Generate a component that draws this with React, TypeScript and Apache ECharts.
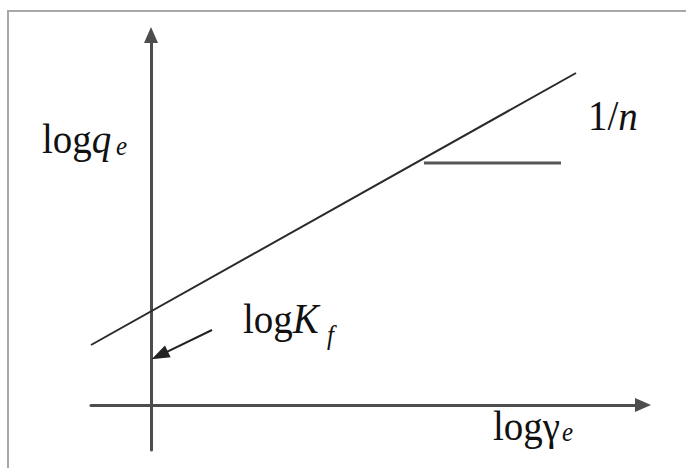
import React, { useEffect, useRef } from "react";
import * as echarts from "echarts";

// Schematic Freundlich isotherm (arbitrary units)
const xRange = [-0.6, 4.92];
const yRange = [-0.45, 3.7];
const isothermLine = [
  [-0.6, 0.6],
  [4.25, 3.32],
];
const slopeMarker = [
  [2.73, 2.42],
  [4.1, 2.42],
];
const interceptArrow = [
  [0.61, 0.75],
  [0.087, 0.497],
];

const FAM = "Liberation Serif";
const FS = 39;
const SUB = 25;
const SY = 1.1;
const mid = (baseline: number, fs: number) => baseline - 0.3375 * fs * SY;

export default function App() {
  const ref = useRef<HTMLDivElement>(null);
  useEffect(() => {
    document.body.style.margin = "0";
    if (!ref.current) return;
    const chart = echarts.init(ref.current, undefined, { renderer: "svg" });
    const rich = {
      a: { fontFamily: FAM, fontSize: FS, color: "#111" },
      b: { fontFamily: FAM, fontSize: FS, fontStyle: "italic", color: "#111" },
    };
    const mainText = (text: string, x: number, baseline: number) => ({
      type: "text",
      x,
      y: mid(baseline, FS),
      scaleY: SY,
      silent: true,
      style: {
        text,
        rich,
        fontFamily: FAM,
        fontSize: FS,
        verticalAlign: "middle",
        align: "left",
        fill: "#111",
      },
    });
    const subText = (text: string, x: number, baseline: number) => ({
      type: "text",
      x,
      y: mid(baseline, SUB),
      scaleY: SY,
      silent: true,
      style: {
        text,
        fontFamily: FAM,
        fontSize: SUB,
        fontStyle: "italic",
        verticalAlign: "middle",
        align: "left",
        fill: "#111",
      },
    });
    chart.setOption({
      animation: false,
      backgroundColor: "#ffffff",
      grid: { left: 91, top: 35, right: 43, bottom: 18, containLabel: false },
      xAxis: {
        type: "value",
        min: xRange[0],
        max: xRange[1],
        axisLine: {
          show: true,
          onZero: true,
          symbol: ["none", "triangle"],
          symbolSize: [14, 16],
          lineStyle: { color: "#4d4d4d", width: 3 },
        },
        axisTick: { show: false },
        axisLabel: { show: false },
        splitLine: { show: false },
      },
      yAxis: {
        type: "value",
        min: yRange[0],
        max: yRange[1],
        axisLine: {
          show: true,
          onZero: true,
          symbol: ["none", "triangle"],
          symbolSize: [14, 16],
          lineStyle: { color: "#4d4d4d", width: 3 },
        },
        axisTick: { show: false },
        axisLabel: { show: false },
        splitLine: { show: false },
      },
      series: [
        {
          type: "line",
          data: isothermLine,
          showSymbol: false,
          symbol: "none",
          silent: true,
          lineStyle: { color: "#2a2a2a", width: 2 },
          markLine: {
            silent: true,
            symbol: ["none", "triangle"],
            symbolSize: [13, 18],
            label: { show: false },
            lineStyle: { color: "#222", width: 2, type: "solid" },
            data: [
              [
                { coord: interceptArrow[0] },
                { coord: interceptArrow[1] },
              ],
            ],
          },
        },
        {
          type: "line",
          data: slopeMarker,
          showSymbol: false,
          symbol: "none",
          silent: true,
          lineStyle: { color: "#555", width: 3 },
        },
      ],
      graphic: [
        {
          type: "rect",
          silent: true,
          shape: { x: 8, y: 11, width: 720, height: 520 },
          style: { fill: "none", stroke: "#a8a8a8", lineWidth: 2 },
        },
        mainText("{a|log}{b|q}", 42, 153),
        subText("e", 116, 155),
        mainText("{a|1/}{b|n}", 588, 130),
        mainText("{a|log}{b|K}", 243, 333),
        subText("f", 327, 344),
        mainText("{a|logγ}", 493, 440),
        subText("e", 562, 441),
      ],
    });
    return () => chart.dispose();
  }, []);
  return <div ref={ref} style={{ width: 686, height: 468 }} />;
}
